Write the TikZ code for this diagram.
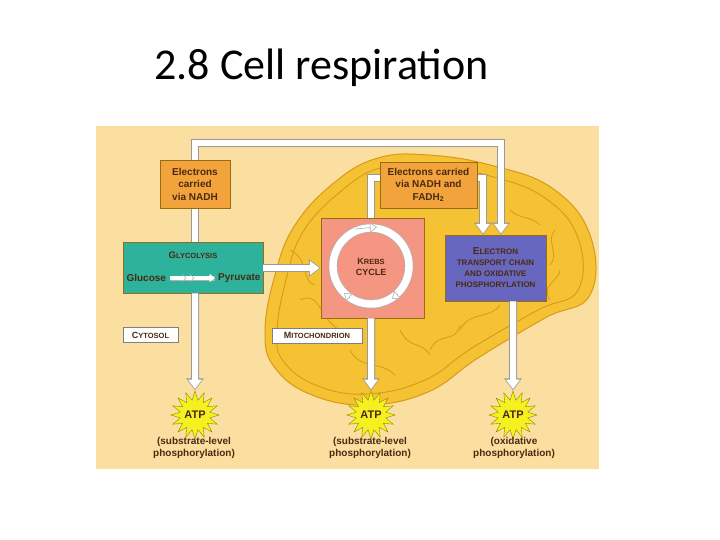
\documentclass[tikz,border=0pt]{standalone}
\usepackage{fontspec}
\setmainfont{Liberation Sans}
\newfontfamily\titlefont{Carlito}
\usetikzlibrary{arrows.meta,shapes.geometric,shapes.misc}
\definecolor{bg}{HTML}{FBDFA0}
\definecolor{mito}{HTML}{F4C232}
\definecolor{mitoline}{HTML}{D99A1A}
\definecolor{eorange}{HTML}{F2A33C}
\definecolor{teal}{HTML}{2DB39B}
\definecolor{salmon}{HTML}{F59683}
\definecolor{etcblue}{HTML}{6767BF}
\definecolor{txt}{HTML}{4A2A10}
\definecolor{starY}{HTML}{F5F020}
\tikzset{
  box/.style={draw=mitoline!70!black,line width=0.5pt,font=\bfseries\fontsize{10}{12.5}\selectfont,text=txt,align=center,inner sep=0pt},
  lbl/.style={draw=gray,fill=white,font=\bfseries\fontsize{7.5}{8}\selectfont,text=txt,inner sep=0pt,minimum height=15pt},
  outerarr/.style={draw=gray!80,line width=8pt,-{Triangle[length=12pt,width=17pt]}},
  innerarr/.style={draw=white,line width=6pt,-{Triangle[length=9.5pt,width=13.5pt]},shorten >=1.3pt},
  atp/.style={star,star points=16,star point ratio=1.6,fill=starY,draw=olive,line width=0.4pt,minimum size=48pt,inner sep=0pt,font=\bfseries\fontsize{11}{12}\selectfont,text=txt},
  captxt/.style={font=\bfseries\fontsize{10}{12.5}\selectfont,text=txt,align=center},
  crista/.style={mitoline,line width=0.8pt}
}
\newcommand{\bigarrow}[1]{\draw[outerarr] #1; \draw[innerarr] #1;}
\begin{document}
\begin{tikzpicture}[x=1pt,y=-1pt]
\useasboundingbox (0,0) rectangle (720,540);
\fill[white] (0,0) rectangle (720,540);
\node[font=\titlefont\fontsize{44}{50}\selectfont,anchor=west] (title) at (151,68) {2.8 Cell respiration};
\fill[bg] (96,126) rectangle (599,469);
% mitochondrion
\draw[mitoline,line width=1pt,fill=mito] plot[smooth cycle,tension=0.7] coordinates {
 (335,182) (378,158) (428,155) (490,165) (552,188) (590,235) (590,295) (545,318) (478,358) (428,392) (368,405) (312,395) (275,368) (265,332) (275,275) (295,225)};
\draw[mitoline,line width=0.9pt] plot[smooth cycle,tension=0.7] coordinates {
 (340,192) (380,168) (430,166) (490,176) (545,198) (578,238) (578,290) (538,310) (472,348) (425,380) (368,394) (318,386) (284,362) (277,332) (286,280) (303,232)};
\draw[crista] (300,300) .. controls (320,290) and (320,320) .. (340,330);
\draw[crista] (290,250) .. controls (310,260) and (300,280) .. (315,285);
\draw[crista] (460,330) .. controls (470,310) and (490,320) .. (500,305);
\draw[crista] (430,350) .. controls (440,330) and (455,345) .. (460,325);
\draw[crista] (555,230) .. controls (545,240) and (560,255) .. (550,265);
\draw[crista] (550,300) .. controls (540,285) and (560,280) .. (560,270);
\draw[crista] (350,350) .. controls (360,370) and (380,360) .. (395,375);
\draw[crista] (400,330) .. controls (410,350) and (420,340) .. (430,355);
\draw[crista] (510,210) .. controls (520,220) and (530,215) .. (540,225);
% nodes
\node[box,fill=teal,minimum width=140pt,minimum height=51pt] (glyc) at (193,267.5) {};
\node[box,fill=salmon,minimum width=103pt,minimum height=100pt] (krebs) at (372.5,268) {};
\node[box,fill=etcblue,minimum width=101pt,minimum height=66pt,font=\bfseries\fontsize{8}{11}\selectfont] (etc) at (495.5,268) {{\fontsize{10}{11}\selectfont E}LECTRON\\TRANSPORT CHAIN\\AND OXIDATIVE\\PHOSPHORYLATION};
\node[lbl,minimum width=55pt] (cyto) at (150.5,335) {{\fontsize{9}{9}\selectfont C}YTOSOL};
\node[lbl,minimum width=90pt] (mitol) at (317,335.5) {{\fontsize{9}{9}\selectfont M}ITOCHONDRION};
% ATP stars
\node[atp] (atp1) at (195,415) {ATP};
\node[atp] (atp2) at (371,415) {ATP};
\node[atp] (atp3) at (513,415) {ATP};
\node[captxt] (c1) at (194,448) {(substrate-level\\phosphorylation)};
\node[captxt] (c2) at (370,448) {(substrate-level\\phosphorylation)};
\node[captxt] (c3) at (514,448) {(oxidative\\phosphorylation)};
% arrows
\coordinate (t1) at (195,143);
\coordinate (t2) at (501,143);
\coordinate (k1) at (371,178);
\coordinate (k2) at (483,178);
\bigarrow{(glyc.south -| t1) -- (atp1.north)}
\bigarrow{(glyc.north -| t1) -- (t1) -- (t2) -- (etc.north -| t2)}
\bigarrow{(krebs.north -| k1) -- (k1) -- (k2) -- (etc.north -| k2)}
\bigarrow{(krebs.south -| k1) -- (atp2.north)}
\bigarrow{(etc.south -| atp3) -- (atp3.north)}
\bigarrow{(glyc.east |- 0,268) -- (krebs.west |- 0,268)}
\node[box,fill=eorange,minimum width=70pt,minimum height=48pt] (enadh) at (195,184) {Electrons\\carried\\via NADH};
\node[box,fill=eorange,minimum width=97pt,minimum height=46pt] (efadh) at (428.5,185) {Electrons carried\\via NADH and\\FADH\textsubscript{2}};
% glycolysis texts and arrows
\node[font=\bfseries\fontsize{9.5}{10}\selectfont,text=txt] (glyct) at (193,255) {G\fontsize{7.5}{8}\selectfont LYCOLYSIS};
\node[font=\bfseries\fontsize{10}{12}\selectfont,text=txt,anchor=west] (gluc) at (123,278) {Glucose};
\node[font=\bfseries\fontsize{10}{12}\selectfont,text=txt,anchor=east] (pyr) at (264,278) {Pyruvate};
\draw[gray!60,line width=5pt] (gluc.east) -- (pyr.west);
\draw[white,line width=3.5pt,-{Triangle[length=5pt,width=8pt]}] (gluc.east) -- (pyr.west);
\draw[gray!60,line width=0.5pt] (182,274) -- (186,278) -- (182,282) (190,274) -- (194,278) -- (190,282);
% Krebs circle
\draw[gray!60,line width=9pt] (371,266) circle (38);
\draw[white,line width=7.4pt] (371,266) circle (38);
\draw[gray!60,line width=0.6pt,-{Triangle[length=7pt,width=10pt,fill=white]}] (355,229) -- (377,227);
\draw[gray!60,line width=0.6pt,-{Triangle[length=7pt,width=10pt,fill=white]}] (398,294) -- (392,299);
\draw[gray!60,line width=0.6pt,-{Triangle[length=7pt,width=10pt,fill=white]}] (350,298) -- (344,293);
\node[font=\bfseries\fontsize{9}{11}\selectfont,text=txt,align=center] (krebst) at (371,267) {K\fontsize{7.5}{9}\selectfont REBS\\CYCLE};
\end{tikzpicture}
\end{document}
